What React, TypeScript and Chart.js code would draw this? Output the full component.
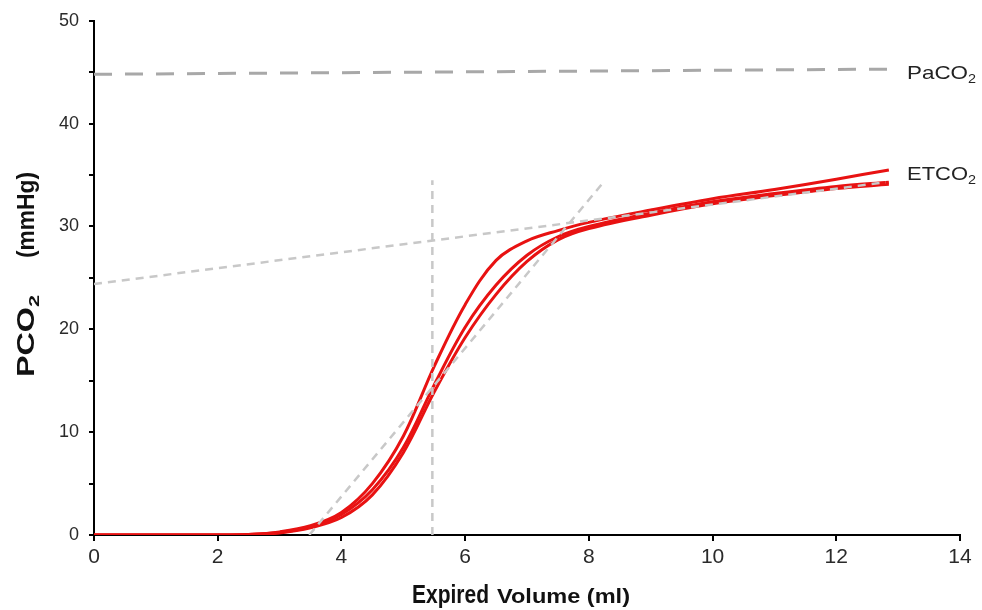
import React, { useEffect, useRef } from "react";
import { Chart, registerables } from "chart.js";

Chart.register(...registerables);

const volume = [0, 1, 2, 2.5, 3, 3.5, 4, 4.5, 5, 5.5, 6, 6.5, 7, 7.5, 8, 9, 10, 11, 12, 12.85];
const curveA = [0, 0, 0, 0.05, 0.3, 0.9, 2.2, 5.0, 9.6, 16.4, 22.4, 26.7, 28.6, 29.6, 30.4, 31.6, 32.7, 33.6, 34.6, 35.5];
const curveB = [0, 0, 0, 0.05, 0.25, 0.8, 2.0, 4.4, 8.5, 14.6, 20.2, 24.3, 27.2, 29.0, 30.0, 31.3, 32.4, 33.2, 33.9, 34.3];
const curveC = [0, 0, 0, 0.03, 0.2, 0.7, 1.7, 3.9, 8.0, 13.9, 19.2, 23.4, 26.6, 28.7, 29.8, 31.1, 32.2, 33.0, 33.7, 34.1];

const paco2X = [0, 12.85];
const paco2Y = [44.8, 45.3];
const plateauX = [0, 12.8];
const plateauY = [24.4, 34.3];
const slopeX = [3.48, 8.25];
const slopeY = [0, 34.4];
const midX = [5.47, 5.47];
const midY = [0, 34.5];

const xTicks = [0, 2, 4, 6, 8, 10, 12, 14];
const yTicks = [0, 10, 20, 30, 40, 50];

const pts = (xs: number[], ys: number[]) => xs.map((x, i) => ({ x, y: ys[i] }));

const RED = "rgb(232,18,18)";
const SANS = '"Liberation Sans", Arial, sans-serif';

export default function App() {
  const ref = useRef<HTMLCanvasElement | null>(null);

  useEffect(() => {
    if (!ref.current) return;

    // draw text horizontally stretched so that it spans `width`
    const fitText = (ctx: CanvasRenderingContext2D, text: string, font: string, x: number, y: number, width: number) => {
      ctx.font = font;
      const w = ctx.measureText(text).width;
      const sx = width / w;
      ctx.save();
      ctx.translate(x, y);
      ctx.scale(sx, 1);
      ctx.textAlign = "left";
      ctx.textBaseline = "alphabetic";
      ctx.fillText(text, 0, 0);
      ctx.restore();
    };

    const labelPlugin = {
      id: "labels",
      afterDraw(chart: any) {
        const ctx = chart.ctx as CanvasRenderingContext2D;
        const ys = chart.scales.y;
        ctx.save();
        ctx.fillStyle = "#222";
        // right labels
        const pBase = ys.getPixelForValue(45) + 7;
        fitText(ctx, "PaCO", `18.5px ${SANS}`, 907, pBase, 61);
        fitText(ctx, "2", `13px ${SANS}`, 968, pBase + 4, 8);
        const eBase = ys.getPixelForValue(35.2) + 7;
        fitText(ctx, "ETCO", `18.5px ${SANS}`, 907, eBase, 61);
        fitText(ctx, "2", `13px ${SANS}`, 968, eBase + 4, 8);

        // y title (rotated), reading bottom to top
        ctx.save();
        ctx.translate(34, 0);
        ctx.rotate(-Math.PI / 2);
        ctx.fillStyle = "#111";
        fitText(ctx, "PCO", `bold 24px ${SANS}`, -377, 0, 70);
        fitText(ctx, "2", `bold 15px ${SANS}`, -307, 5, 12);
        fitText(ctx, "(mmHg)", `bold 24px ${SANS}`, -258, 0, 86);
        ctx.restore();

        // x title
        ctx.fillStyle = "#111";
        fitText(ctx, "Expired", `bold 25px ${SANS}`, 412, 603, 77);
        fitText(ctx, "Volume (ml)", `bold 20px ${SANS}`, 497, 603, 133);
        ctx.restore();
      },
    };

    const dashedLight = { borderColor: "#c8c8c8", borderWidth: 2.5, borderDash: [8, 6], pointRadius: 0, tension: 0, fill: false };
    const redLine = { borderColor: RED, borderWidth: 3, pointRadius: 0, tension: 0.35, fill: false };

    const chart = new Chart(ref.current, {
      type: "line",
      data: {
        datasets: [
          { ...dashedLight, data: pts(plateauX, plateauY) },
          { ...dashedLight, data: pts(slopeX, slopeY) },
          { ...dashedLight, data: pts(midX, midY) },
          { borderColor: "#a8a8a8", borderWidth: 3, borderDash: [18, 13], pointRadius: 0, tension: 0, fill: false, data: pts(paco2X, paco2Y) },
          { ...redLine, data: pts(volume, curveA) },
          { ...redLine, data: pts(volume, curveB) },
          { ...redLine, data: pts(volume, curveC) },
        ],
      },
      options: {
        animation: false,
        responsive: false,
        maintainAspectRatio: false,
        layout: { padding: { left: 0, top: 17, right: 22, bottom: 0 } },
        plugins: { legend: { display: false }, tooltip: { enabled: false } },
        scales: {
          x: {
            type: "linear",
            min: 0,
            max: 14,
            afterFit: (s: any) => { s.height = 75; },
            afterBuildTicks: (s: any) => { s.ticks = xTicks.map((v) => ({ value: v })); },
            border: { color: "#000", width: 2 },
            grid: { drawOnChartArea: false, drawTicks: true, tickLength: 6, color: "#000", lineWidth: 2 },
            ticks: { color: "#2a2a2a", font: { size: 21, family: `"Liberation Sans Narrow", ${SANS}` }, padding: 4, maxRotation: 0 },
          },
          y: {
            type: "linear",
            min: 0,
            max: 50,
            afterFit: (s: any) => { s.width = 94; },
            afterBuildTicks: (s: any) => {
              const t: any[] = [];
              for (let v = 0; v <= 50; v += 5) t.push({ value: v });
              s.ticks = t;
            },
            border: { color: "#000", width: 2 },
            grid: { drawOnChartArea: false, drawTicks: true, tickLength: 5, color: "#000", lineWidth: 2 },
            ticks: {
              color: "#2a2a2a",
              font: { size: 18, family: SANS },
              padding: 10,
              callback: (v: any) => (yTicks.includes(Number(v)) ? String(v) : ""),
            },
          },
        },
      },
      plugins: [labelPlugin],
    });

    return () => chart.destroy();
  }, []);

  return (
    <div style={{ position: "fixed", left: 0, top: 0, width: 982, height: 610, background: "#fff" }}>
      <canvas ref={ref} width={982} height={610} style={{ width: 982, height: 610 }} />
    </div>
  );
}
